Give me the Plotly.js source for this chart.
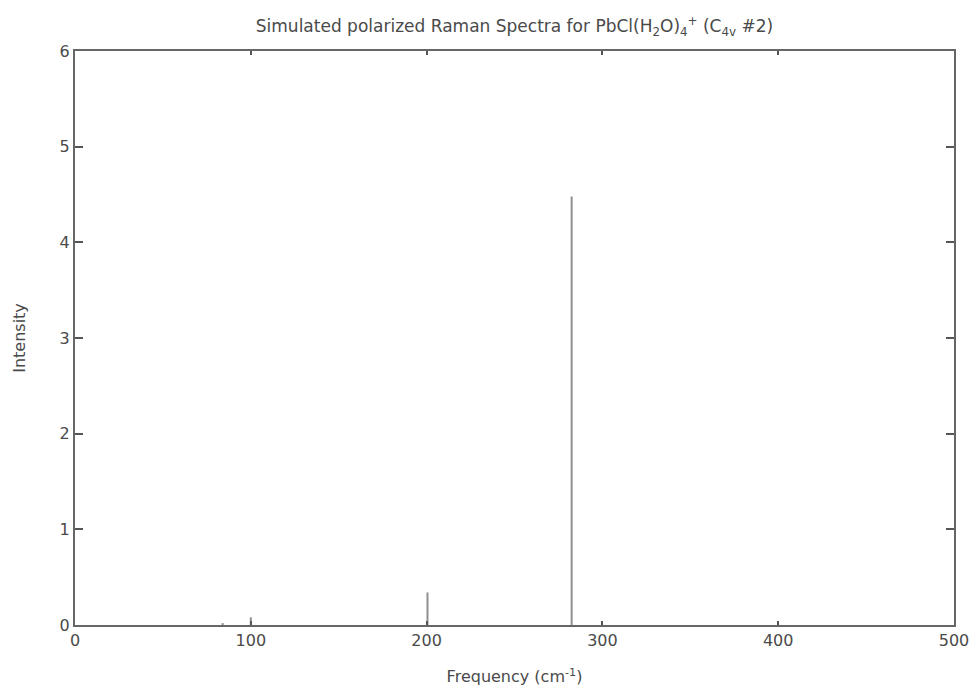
<!DOCTYPE html>
<html>
<head>
<meta charset="utf-8">
<script src="https://cdn.plot.ly/plotly-3.0.1.min.js"></script>
<style>html,body{margin:0;padding:0;background:#fff;}#chart{width:980px;height:692px;}</style>
</head>
<body>
<div id="chart"></div>
<script>
// Peak frequencies (cm^-1) and intensities
const frequencies = [84, 100, 200.5, 282.5];
const intensities = [0.02, 0.08, 0.34, 4.48];
const xTicks = [0, 100, 200, 300, 400, 500];
const yTicks = [0, 1, 2, 3, 4, 5, 6];

const xs = [], ys = [];
frequencies.forEach((f, i) => { xs.push(f, f, null); ys.push(0, intensities[i], null); });

const trace = {
  x: xs, y: ys, type: 'scatter', mode: 'lines',
  line: {color: '#8f8f8f', width: 2},
  hoverinfo: 'skip', showlegend: false
};

const FONT = 'DejaVu Sans, Verdana, sans-serif';
const TXT = '#4a4a4a';

const axisCommon = {
  showgrid: false, zeroline: false, showline: true, mirror: 'ticks',
  linecolor: '#666', linewidth: 2,
  ticks: 'inside', tickwidth: 2, tickcolor: '#555',
  tickfont: {family: FONT, size: 16, color: TXT}
};

const layout = {
  width: 980, height: 692,
  margin: {l: 75, r: 26, t: 51, b: 67},
  paper_bgcolor: '#fff', plot_bgcolor: '#fff',
  title: {
    text: 'Simulated polarized Raman Spectra for PbCl(H<sub>2</sub>O)<sub>4</sub><sup>+</sup> (C<sub>4v</sub> #2)',
    font: {family: FONT, size: 17, color: TXT},
    xref: 'paper', x: 0.5, xanchor: 'center', y: 0.962, yanchor: 'middle'
  },
  xaxis: Object.assign({}, axisCommon, {
    range: [0, 500], tickvals: xTicks, ticklen: 4,
    title: {text: 'Frequency (cm<sup>-1</sup>)', font: {family: FONT, size: 16, color: TXT}, standoff: 22}
  }),
  yaxis: Object.assign({}, axisCommon, {
    range: [0, 6], tickvals: yTicks, ticklen: 8,
    title: {text: 'Intensity', font: {family: FONT, size: 16, color: TXT}, standoff: 30}
  })
};

Plotly.newPlot('chart', [trace], layout, {staticPlot: true, displayModeBar: false});
</script>
</body>
</html>
